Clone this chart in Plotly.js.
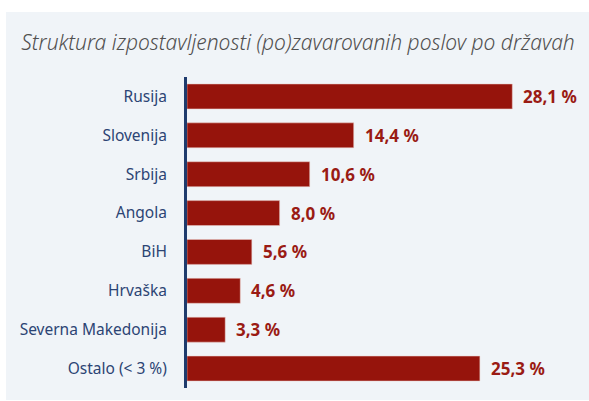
<!DOCTYPE html>
<html><head><meta charset="utf-8">
<script src="https://cdn.plot.ly/plotly-3.0.1.min.js"></script>
<style>
html,body{margin:0;padding:0;background:#fff;width:589px;height:401px;overflow:hidden}
#panel{position:absolute;left:6px;top:12px;width:583px;height:388px;background:#f0f4f8}
#chart{position:absolute;left:0;top:0;width:589px;height:401px}
</style></head>
<body>
<div id="panel"></div>
<div id="chart"></div>
<script>
const categories = ["Rusija","Slovenija","Srbija","Angola","BiH","Hrvaška","Severna Makedonija","Ostalo (< 3 %)"];
const values = [28.1,14.4,10.6,8.0,5.6,4.6,3.3,25.3];
const valueLabels = ["28,1 %","14,4 %","10,6 %","8,0 %","5,6 %","4,6 %","3,3 %","25,3 %"];

const trace = {
  type:'bar', orientation:'h', x: values, y: categories,
  marker:{color:'#96140c', line:{color:'#e8c8c4', width:0.5}},
  hoverinfo:'none', cliponaxis:false
};
const annotations = values.map((v,i)=>({
  x:v, y:categories[i], xref:'x', yref:'y', text:valueLabels[i], showarrow:false,
  xanchor:'left', yanchor:'middle', xshift:9,
  font:{family:'Noto Sans, sans-serif', size:17, color:'#9a1b14', weight:'bold'}
}));
const layout = {
  width:589, height:401,
  paper_bgcolor:'rgba(0,0,0,0)', plot_bgcolor:'rgba(0,0,0,0)',
  margin:{l:187, r:20, t:77, b:13},
  showlegend:false,
  bargap:0.36,
  title:{text:'Struktura izpostavljenosti (po)zavarovanih poslov po državah',
    x:0.506, xanchor:'center', y:0.893, yanchor:'middle', xref:'container', yref:'container',
    font:{family:'Noto Sans, sans-serif', size:21, color:'#505050', style:'italic', weight:300}},
  xaxis:{range:[0,33], visible:false, fixedrange:true},
  yaxis:{type:'category', autorange:'reversed', showline:true, linecolor:'#1f3b6d', linewidth:3,
    ticks:'', showgrid:false, zeroline:false, ticklabelstandoff:14,
    tickfont:{family:'Noto Sans, sans-serif', size:15.5, color:'#2c4474'}},
  annotations: annotations
};
Plotly.newPlot('chart',[trace],layout,{staticPlot:true});
</script>
</body></html>
